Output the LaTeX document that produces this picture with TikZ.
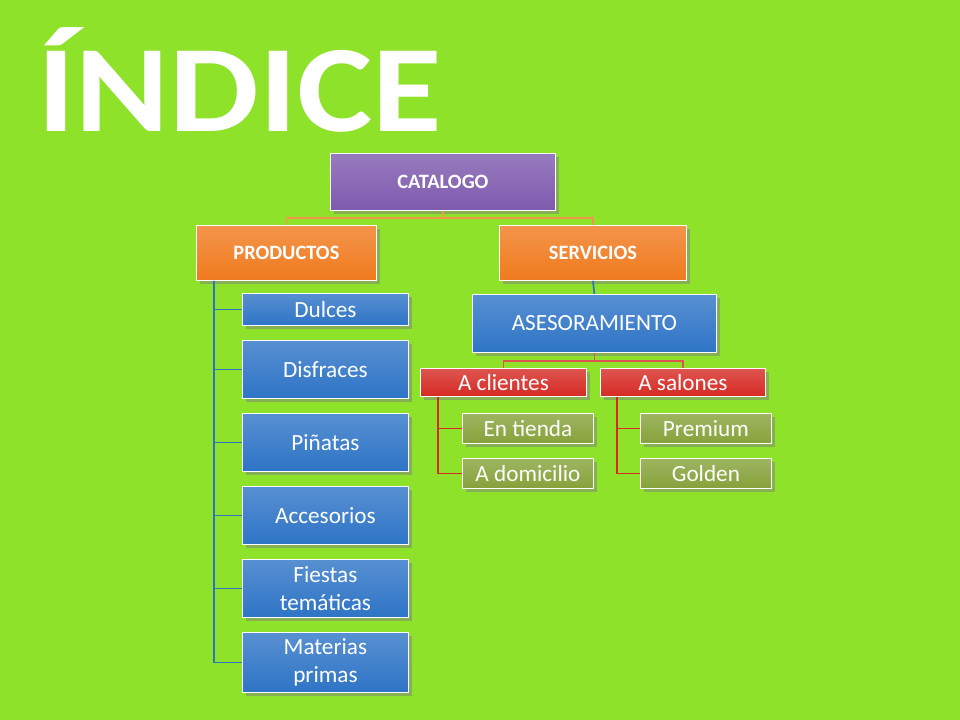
\documentclass[tikz,border=0pt]{standalone}
\usepackage{fontspec}
\setmainfont{Carlito}
\usetikzlibrary{shadows}
\definecolor{bgc}{HTML}{8FE22A}
\definecolor{purp}{HTML}{7E5AAE}
\definecolor{oran}{HTML}{F07A1E}
\definecolor{blu}{HTML}{2E74C6}
\definecolor{redd}{HTML}{D62A24}
\definecolor{oliv}{HTML}{86A23A}
\tikzset{
  box/.style={draw=white, line width=0.6pt, text=white, align=center, anchor=north west,
    inner sep=0pt, font=\fontsize{16.5}{20}\selectfont, drop shadow={opacity=0.5}},
  sq/.style 2 args={box, minimum width=#1*0.025cm, minimum height=#2*0.025cm},
  head/.style={font=\fontsize{14.5}{15}\bfseries\selectfont},
  link/.style={line width=1.2pt},
}
\begin{document}
\begin{tikzpicture}[x=0.025cm, y=-0.025cm]
  \fill[bgc] (0,0) rectangle (960,720);
  \useasboundingbox (0,0) rectangle (960,720);
  % title
  \node[font=\fontsize{88}{88}\bfseries\selectfont, text=white, anchor=west, xscale=1.15] (title) at (32,80) {ÍNDICE};

  % level 1
  \node[sq={225}{57}, head, top color=purp!80, bottom color=purp] (cat) at (330,153) {CATALOGO};
  \node[sq={180}{55}, head, top color=oran!80, bottom color=oran] (prod) at (196,225) {PRODUCTOS};
  \node[sq={187}{55}, head, top color=oran!80, bottom color=oran] (serv) at (499,225) {SERVICIOS};

  % productos
  \node[sq={166}{32}, top color=blu!80, bottom color=blu] (dul) at (242,293) {Dulces};
  \node[sq={166}{58}, top color=blu!80, bottom color=blu] (dis) at (242,340) {Disfraces};
  \node[sq={166}{58}, top color=blu!80, bottom color=blu] (pin) at (242,413) {Piñatas};
  \node[sq={166}{58}, top color=blu!80, bottom color=blu] (acc) at (242,486) {Accesorios};
  \node[sq={166}{58}, top color=blu!80, bottom color=blu] (fie) at (242,559) {Fiestas\\temáticas};
  \node[sq={166}{60}, top color=blu!80, bottom color=blu] (mat) at (242,632) {Materias\\primas};

  % servicios
  \node[sq={244}{58}, top color=blu!80, bottom color=blu] (ase) at (472,294) {ASESORAMIENTO};
  \node[sq={166}{28}, top color=redd!80, bottom color=redd] (cli) at (420,368) {A clientes};
  \node[sq={165}{28}, top color=redd!80, bottom color=redd] (sal) at (600,368) {A salones};
  \node[sq={131}{30}, top color=oliv!80, bottom color=oliv] (tie) at (462,413) {En tienda};
  \node[sq={131}{30}, top color=oliv!80, bottom color=oliv] (dom) at (462,458) {A domicilio};
  \node[sq={131}{30}, top color=oliv!80, bottom color=oliv] (pre) at (640,413) {Premium};
  \node[sq={131}{30}, top color=oliv!80, bottom color=oliv] (gol) at (640,458) {Golden};

  % connectors
  \draw[link, oran!80] (cat.south) -- ++(0,7) -| (prod.north);
  \draw[link, oran!80] (cat.south) -- ++(0,7) -| (serv.north);
  \foreach \n in {dul,dis,pin,acc,fie,mat}
    \draw[link, blu] (prod.south west) ++(18,0) |- (\n.west);
  \draw[link, blu] (serv.south) -- (ase.north);
  \draw[link, redd!80] (ase.south) -- ++(0,8) -| (cli.north);
  \draw[link, redd!80] (ase.south) -- ++(0,8) -| (sal.north);
  \foreach \n in {tie,dom}
    \draw[link, redd] (cli.south west) ++(18,0) |- (\n.west);
  \foreach \n in {pre,gol}
    \draw[link, redd] (sal.south west) ++(17,0) |- (\n.west);
\end{tikzpicture}
\end{document}
